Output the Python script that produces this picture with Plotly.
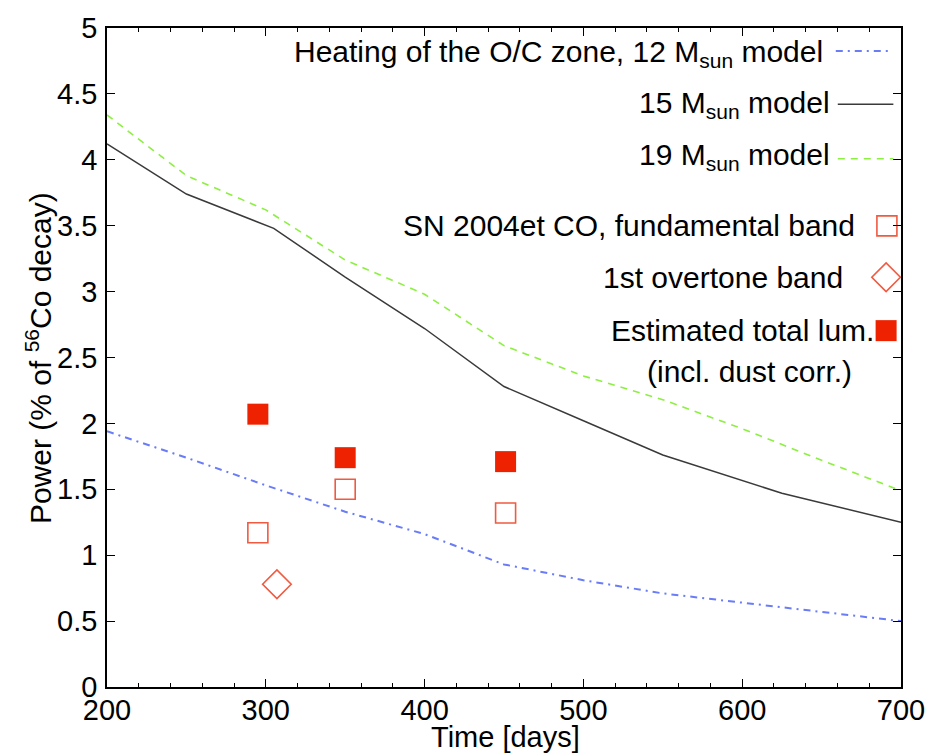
import plotly.graph_objects as go

# ---------------- data ----------------
t_12 = [200, 250, 300, 350, 400, 450, 500, 550, 600, 650, 700]
p_12 = [1.94, 1.74, 1.53, 1.33, 1.16, 0.93, 0.81, 0.71, 0.64, 0.57, 0.50]

t_15 = [200, 250, 305, 350, 400, 450, 500, 550, 625, 700]
p_15 = [4.12, 3.74, 3.48, 3.11, 2.72, 2.28, 2.02, 1.76, 1.47, 1.25]

t_19 = [200, 250, 300, 350, 400, 450, 500, 550, 600, 650, 700]
p_19 = [4.34, 3.88, 3.62, 3.24, 2.98, 2.59, 2.36, 2.18, 1.96, 1.72, 1.49]

t_fund = [295, 350, 451]
p_fund = [1.17, 1.50, 1.32]

t_over = [307]
p_over = [0.78]

t_tot = [295, 350, 451]
p_tot = [2.07, 1.74, 1.71]

x_ticks = [200, 300, 400, 500, 600, 700]
y_ticks = [0, 0.5, 1, 1.5, 2, 2.5, 3, 3.5, 4, 4.5, 5]
y_ticklabels = ["0", "0.5", "1", "1.5", "2", "2.5", "3", "3.5", "4", "4.5", "5"]

# ---------------- styling ----------------
W, H = 937, 755
L, R, T, B = 106.7, 906.7, 19.7, 686.7
FONT = "Liberation Sans, Arial, Helvetica, sans-serif"
BLUE = "#6a7cf6"
GREEN = "#8cf040"
BLACK = "#3a3a3a"
RED = "#ee2200"
RED_OPEN = "#f05a40"
FS = 30


def px(xp):
    return (xp - L) / (R - L)


def py(yp):
    return (B - yp) / (B - T)


fig = go.Figure()

fig.add_trace(go.Scatter(x=t_12, y=p_12, mode="lines",
                         line=dict(color=BLUE, width=2, dash="7px,5px,2px,5px"),
                         showlegend=False))
fig.add_trace(go.Scatter(x=t_15, y=p_15, mode="lines",
                         line=dict(color=BLACK, width=1.5),
                         showlegend=False))
fig.add_trace(go.Scatter(x=t_19, y=p_19, mode="lines",
                         line=dict(color=GREEN, width=1.6, dash="7px,6px"),
                         showlegend=False))
fig.add_trace(go.Scatter(x=t_tot, y=p_tot, mode="markers",
                         marker=dict(symbol="square", size=21, color=RED,
                                     line=dict(width=0)),
                         showlegend=False))
fig.add_trace(go.Scatter(x=t_fund, y=p_fund, mode="markers",
                         marker=dict(symbol="square-open", size=20, color=RED_OPEN,
                                     line=dict(width=1.6, color=RED_OPEN)),
                         showlegend=False))
fig.add_trace(go.Scatter(x=t_over, y=p_over, mode="markers",
                         marker=dict(symbol="diamond-open", size=22, color=RED_OPEN,
                                     line=dict(width=1.6, color=RED_OPEN)),
                         showlegend=False))

# ---------------- legend (text left of key, right aligned) ----------------
legend_lines = [
    ("Heating of the O/C zone, 12 M<sub>sun</sub> model", 830, 46, 841, 898, 43, BLUE, 2, "7px,5px,2px,5px"),
    ("15 M<sub>sun</sub> model", 837, 97, 843, 899, 97, BLACK, 1.5, "solid"),
    ("19 M<sub>sun</sub> model", 837, 150, 843, 899, 152, GREEN, 1.6, "7px,6px"),
]
annotations = []
shapes = []
for text, xr, yc, x0, x1, yl, col, w, dash in legend_lines:
    annotations.append(dict(text=text, x=px(xr), y=py(yc), xref="paper", yref="paper",
                            xanchor="right", yanchor="middle", showarrow=False,
                            font=dict(family=FONT, size=FS, color="black")))
    shapes.append(dict(type="line", xref="paper", yref="paper",
                       x0=px(x0), x1=px(x1), y0=py(yl), y1=py(yl),
                       line=dict(color=col, width=w, dash=dash)))

legend_marks = [
    ("SN 2004et CO, fundamental band", 862, 220, 892.5, 220, "square-open", 20, RED_OPEN),
    ("1st overtone band", 850, 272, 891.7, 272, "diamond-open", 22, RED_OPEN),
    ("Estimated total lum.", 881.7, 326, 891.7, 326, "square", 21, RED),
]
for text, xr, yc, mx, my, sym, size, col in legend_marks:
    annotations.append(dict(text=text, x=px(xr), y=py(yc), xref="paper", yref="paper",
                            xanchor="right", yanchor="middle", showarrow=False,
                            font=dict(family=FONT, size=FS, color="black")))
    fig.add_trace(go.Scatter(x=[px(mx)], y=[py(my)], xaxis="x2", yaxis="y2",
                             mode="markers", cliponaxis=False, showlegend=False,
                             marker=dict(symbol=sym, size=size, color=col,
                                         line=dict(width=1.6 if "open" in sym else 0, color=col))))
annotations.append(dict(text="(incl. dust corr.)", x=px(754), y=py(367), xref="paper", yref="paper",
                        xanchor="center", yanchor="middle", showarrow=False,
                        font=dict(family=FONT, size=FS, color="black")))

# axis titles
annotations.append(dict(text="Time [days]", x=px(508), y=py(737), xref="paper", yref="paper",
                        xanchor="center", yanchor="middle", showarrow=False,
                        font=dict(family=FONT, size=29, color="black")))
annotations.append(dict(text="Power (% of <sup>56</sup>Co decay)", x=px(38), y=py(354),
                        xref="paper", yref="paper", textangle=-90,
                        xanchor="center", yanchor="middle", showarrow=False,
                        font=dict(family=FONT, size=FS, color="black")))

fig.update_layout(
    width=W, height=H,
    margin=dict(l=L, r=W - R, t=T, b=H - B, pad=0),
    paper_bgcolor="white", plot_bgcolor="white",
    showlegend=False,
    annotations=annotations,
    shapes=shapes,
    xaxis=dict(range=[200, 700], tickvals=x_ticks, ticktext=[str(v) for v in x_ticks],
               ticks="inside", ticklen=8, tickwidth=1.3, tickcolor="black",
               minor=dict(dtick=20, tick0=200, ticks="inside", ticklen=4, tickwidth=1, tickcolor="black"),
               showline=True, linecolor="black", linewidth=1.6, mirror="ticks",
               showgrid=False, zeroline=False,
               tickfont=dict(family=FONT, size=29, color="black"),
               ticklabelstandoff=-4),
    yaxis=dict(range=[0, 5], tickvals=y_ticks, ticktext=y_ticklabels,
               ticks="inside", ticklen=8, tickwidth=1.3, tickcolor="black",
               showline=True, linecolor="black", linewidth=1.6, mirror="ticks",
               showgrid=False, zeroline=False,
               tickfont=dict(family=FONT, size=29, color="black"),
               ticklabelstandoff=2),
    xaxis2=dict(domain=[0, 1], range=[0, 1], overlaying="x", anchor="y2", visible=False),
    yaxis2=dict(domain=[0, 1], range=[0, 1], overlaying="y", anchor="x2", visible=False),
)

fig.write_html("out.html")
